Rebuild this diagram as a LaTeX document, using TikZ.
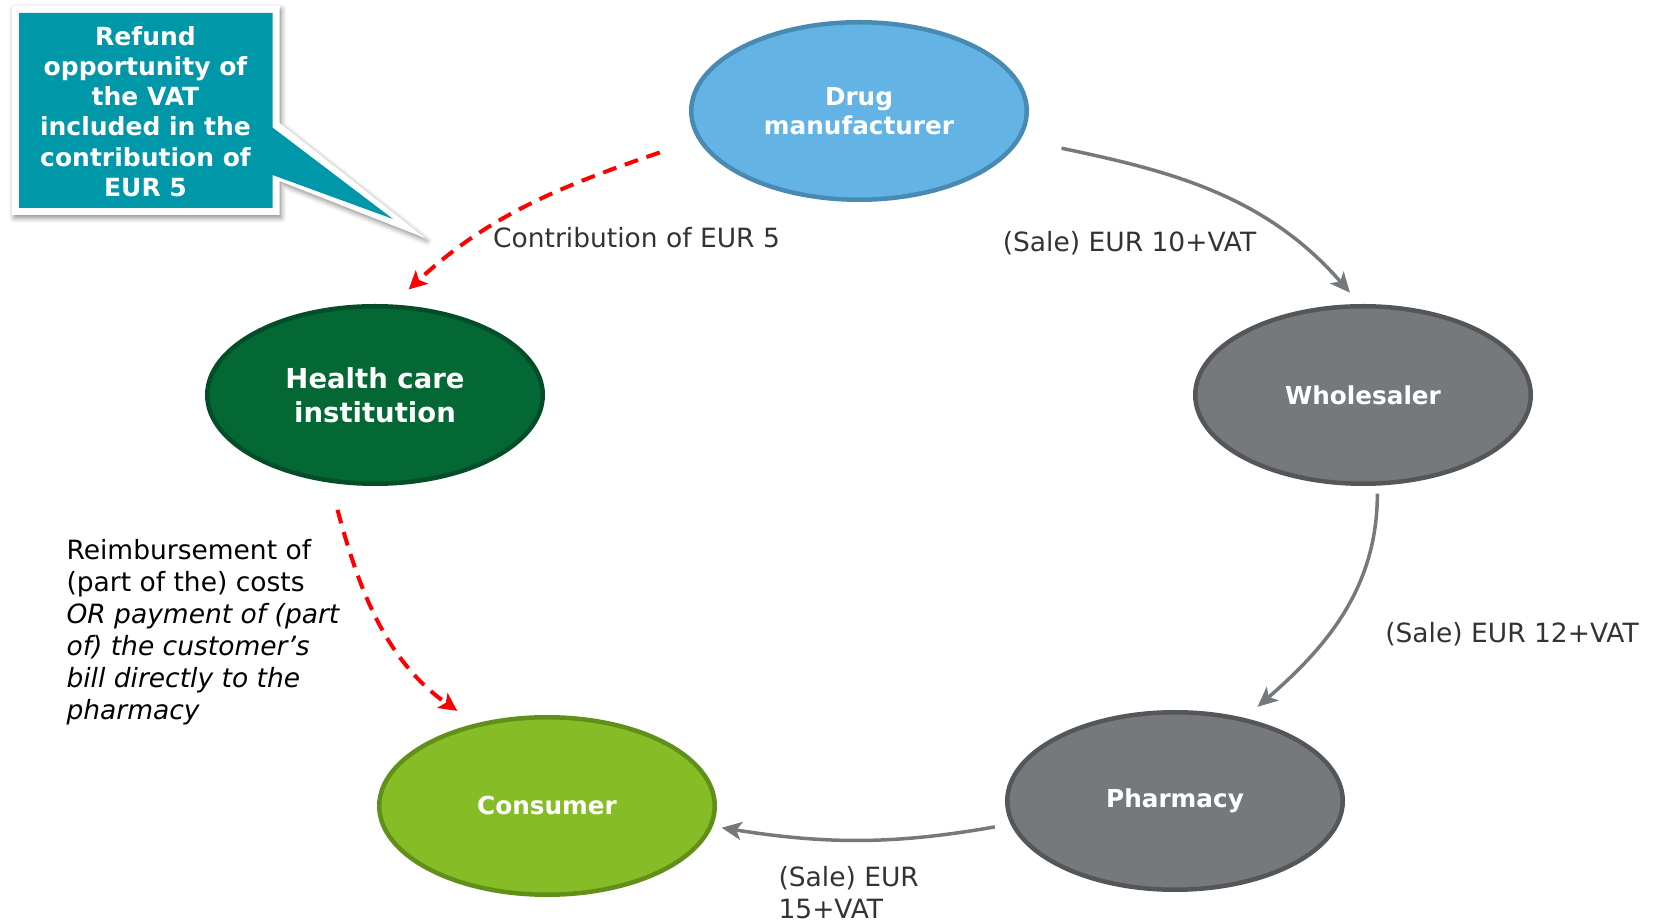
\documentclass[tikz,border=0pt]{standalone}
\usepackage{fontspec}
\setmainfont{DejaVu Sans}
\usetikzlibrary{shapes,arrows.meta,shadows,shadows.blur}

\definecolor{dmblue}{RGB}{99,180,228}
\definecolor{dmedge}{RGB}{72,138,178}
\definecolor{hcgreen}{RGB}{4,104,52}
\definecolor{hcedge}{RGB}{3,78,40}
\definecolor{midgray}{RGB}{118,121,124}
\definecolor{grayedge}{RGB}{84,86,90}
\definecolor{cogreen}{RGB}{134,188,37}
\definecolor{coedge}{RGB}{98,143,26}
\definecolor{noteteal}{RGB}{0,151,169}
\definecolor{salegray}{RGB}{118,121,124}
\definecolor{refundred}{RGB}{255,0,0}
\definecolor{labelgray}{RGB}{51,51,51}

\begin{document}
\begin{tikzpicture}[x=1pt,y=1pt,
                       party/.style={ellipse,draw,line width=4.5pt,inner sep=0pt,
                                     minimum width=335.5pt,minimum height=177.5pt,
                                     text=white,align=center,
                                     font=\bfseries\fontsize{24.7}{29.6}\selectfont},
                       sale/.style={draw=salegray,line width=3.5pt,
                                    -{Stealth[length=20pt,width=18pt,inset=5pt]}},
                       refund/.style={draw=refundred,line width=4pt,
                                      dash pattern=on 14pt off 9pt,
                                      -{Stealth[length=18pt,width=18pt,inset=4pt]}},
                       money/.style={text=labelgray,font=\fontsize{26.5}{32}\selectfont},
                       note/.style={text=white,align=center,
                                    font=\bfseries\fontsize{25}{30.3}\selectfont}
                           ]
   \useasboundingbox (0,0) rectangle (1661,923);

   % the five parties
   \node[party,fill=dmblue,draw=dmedge] (dm) at (859,812) {Drug\\manufacturer};
   \node[party,fill=hcgreen,draw=hcedge,
         font=\bfseries\fontsize{27.5}{34}\selectfont] (hc) at (375,528) {Health care\\institution};
   \node[party,fill=midgray,draw=grayedge] (ws) at (1363,528) {Wholesaler};
   \node[party,fill=midgray,draw=grayedge] (ph) at (1175,122) {Pharmacy};
   \node[party,fill=cogreen,draw=coedge] (co) at (547,117) {Consumer};

   % callout: white frame with shadow, teal face on top
   \fill[white,blur shadow={shadow xshift=2pt,shadow yshift=-3pt,
                            shadow blur radius=5pt,shadow opacity=45}]
     (12,917) -- (279.5,917) -- (279.5,800) -- (425,685) -- (279.5,742)
     -- (279.5,708) -- (12,708) -- cycle;
   \fill[noteteal]
     (19,910) -- (272.5,910) -- (272.5,795.5) -- (393,704) -- (272.5,748)
     -- (272.5,715) -- (19,715) -- cycle;
   \node[note] (refund) at (145.5,811.5)
     {Refund\\opportunity of\\the VAT\\included in the\\contribution of\\EUR 5};

   % flows of goods and money
      \path%
    (dm.350) edge [sale,out=348,in=131,shorten <=42pt,shorten >=15pt] (ws.92)
    (ws.279) edge [sale,out=270,in=41,shorten <=8pt,shorten >=17pt] (ph.50)
    (ph.188) edge [sale,out=190,in=351,shorten <=16pt,shorten >=9pt] (co.353)
    (dm.190) edge [refund,out=199,in=43,shorten <=40pt,shorten >=22pt] (hc.79)
    (hc.243) edge [refund,out=285,in=145,shorten <=28pt,shorten >=22pt] (co.131);

   % amounts
   \node[money] (contrib) at (636.5,685) {Contribution of EUR 5};
   \node[money] (sale10) at (1129.5,680) {(Sale) EUR 10+VAT};
   \node[money] (sale12) at (1512,289) {(Sale) EUR 12+VAT};
   \node[money,anchor=west,align=left] (sale15) at (775,30) {(Sale) EUR\\15+VAT};
   \node[money,text=black,anchor=west,align=left] (reimb) at (63,291)
     {Reimbursement of\\(part of the) costs\\\textit{OR payment of (part}\\
      \textit{of) the customer’s}\\\textit{bill directly to the}\\\textit{pharmacy}};
      \end{tikzpicture}
\end{document}
